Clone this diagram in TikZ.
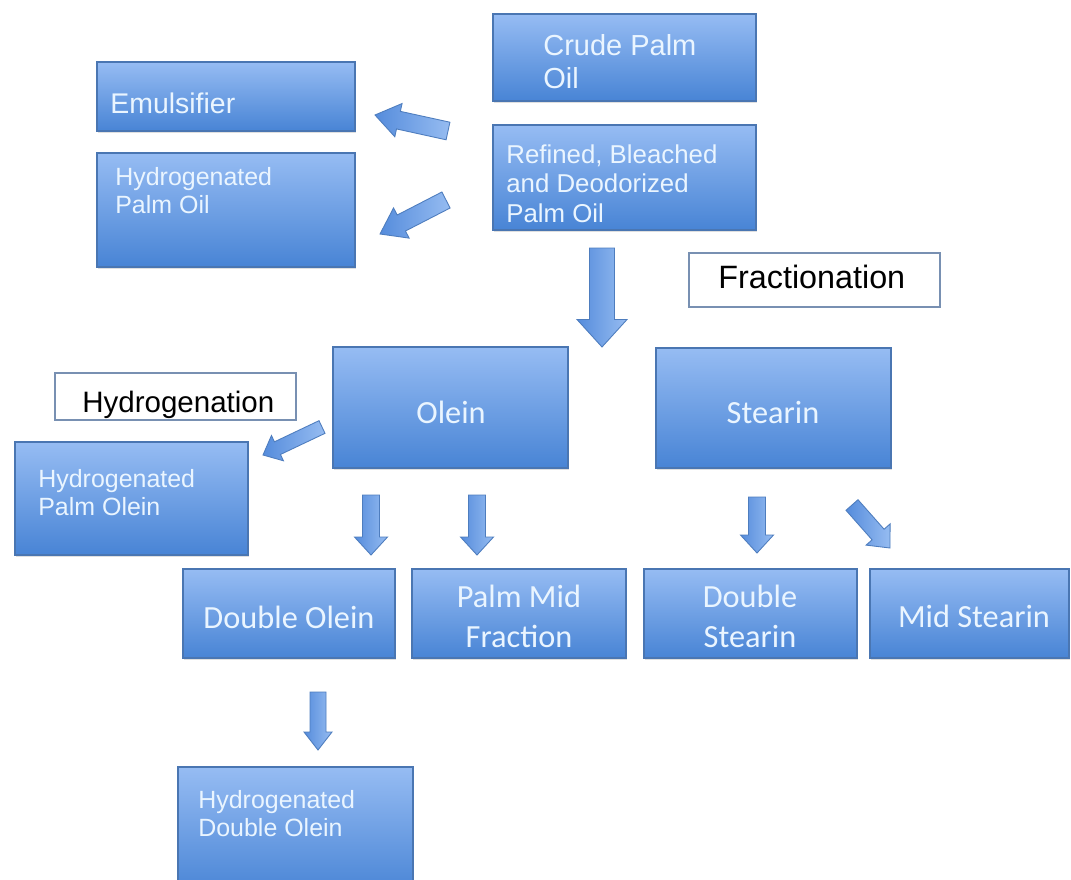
\documentclass[tikz,border=0pt]{standalone}
\usepackage{fontspec}
\setmainfont{Liberation Sans}
\newfontfamily\calib{Carlito}
\usetikzlibrary{calc,fit,shadows}

\definecolor{boxtop}{HTML}{96BCF3}
\definecolor{boxbot}{HTML}{4884D5}
\definecolor{boxedge}{HTML}{4A76B2}
\definecolor{boxfont}{HTML}{EAF5FF}
\definecolor{tagedge}{HTML}{7890B2}
\definecolor{arrowdark}{HTML}{558CDC}
\definecolor{arrowlight}{HTML}{96BCF1}
\definecolor{arrowedge}{HTML}{4E7DBE}

\tikzset{
  box/.style={draw=boxedge, line width=0.6pt, top color=boxtop, bottom color=boxbot,
    inner sep=0pt, drop shadow={opacity=0.25, shadow xshift=0.6pt, shadow yshift=-1pt}},
  boxtext/.style={text=boxfont, inner sep=0pt, align=left},
  calibtext/.style={text=boxfont, inner sep=0pt, align=center,
    font=\calib\fontsize{18.4pt}{22.7pt}\selectfont},
  tag/.style={draw=tagedge, line width=0.6pt, fill=white, inner sep=0pt},
  fat/.style={draw=arrowedge, line width=0.5pt, left color=arrowdark, right color=arrowlight},
}

% block arrow: tail, tip, half shaft, half head, head length
\newcommand{\fatarrow}[5]{%
  \coordinate (fa-h) at ($(#2)!#5!(#1)$);
  \draw[fat] ($(#1)!#3!90:(#2)$) -- ($(fa-h)!#3!90:(#2)$) -- ($(fa-h)!#4!90:(#2)$)
    -- (#2) -- ($(fa-h)!#4!-90:(#2)$) -- ($(fa-h)!#3!-90:(#2)$) -- ($(#1)!#3!-90:(#2)$) -- cycle;}

\begin{document}
\begin{tikzpicture}[x=0.02cm, y=-0.02cm]
  \useasboundingbox[fill=white] (0,0) rectangle (1071,879);

  % boxes
  \node[box, fit={(493,14) (756,101)}] (cpo) {};
  \node[box, fit={(493,125) (756,230)}] (rbd) {};
  \node[box, fit={(97,62) (355,131)}] (emul) {};
  \node[box, fit={(97,153) (355,267)}] (hpo) {};
  \node[box, fit={(333,347) (568,468)}] (olein) {};
  \node[box, fit={(656,348) (891,468)}] (stearin) {};
  \node[box, fit={(15,442) (248,555)}] (hpolein) {};
  \node[box, fit={(183,569) (395,658)}] (dolein) {};
  \node[box, fit={(412,569) (626,658)}] (pmf) {};
  \node[box, fit={(644,569) (857,658)}] (dstearin) {};
  \node[box, fit={(870,569) (1069,658)}] (mstearin) {};
  \node[box, fit={(178,767) (413,895)}] (hdo) {};

  % process labels
  \node[tag, fit={(689,253) (940,307)}] (fractag) {};
  \node[tag, fit={(55,373) (296,420)}] (hydrotag) {};
  \node[anchor=base west, inner sep=0pt, font=\fontsize{18.4pt}{22pt}\selectfont] (fractext) at (718,288) {Fractionation};
  \node[anchor=base west, inner sep=0pt, font=\fontsize{16.8pt}{20pt}\selectfont] (hydrotext) at (82,412) {Hydrogenation};

  % box texts (base = last line)
  \node[boxtext, anchor=base west, font=\fontsize{16.5pt}{18.7pt}\selectfont] (cpotext) at (543,88) {Crude Palm\\Oil};
  \node[boxtext, anchor=base west, font=\fontsize{14.7pt}{16.6pt}\selectfont] (rbdtext) at (506,222) {Refined, Bleached\\and Deodorized\\Palm Oil};
  \node[boxtext, anchor=base west, font=\fontsize{16.2pt}{19pt}\selectfont] (emultext) at (110,113) {Emulsifier};
  \node[boxtext, anchor=base west, font=\fontsize{14.2pt}{15.9pt}\selectfont] (hpotext) at (115,213) {Hydrogenated\\Palm Oil};
  \node[boxtext, anchor=base west, font=\fontsize{14.2pt}{15.9pt}\selectfont] (hpoleintext) at (38,515) {Hydrogenated\\Palm Olein};
  \node[boxtext, anchor=base west, font=\fontsize{14.2pt}{15.9pt}\selectfont] (hdotext) at (198,836) {Hydrogenated\\Double Olein};

  \node[calibtext, anchor=base] (oleintext) at (451,423) {Olein};
  \node[calibtext, anchor=base] (stearintext) at (773,423) {Stearin};
  \node[calibtext, anchor=base] (doleintext) at (289,628) {Double Olein};
  \node[calibtext, anchor=base] (pmftext) at (519,647) {Palm Mid\\Fraction};
  \node[calibtext, anchor=base] (dstearintext) at (750,647) {Double\\Stearin};
  \node[calibtext, anchor=base] (mstearintext) at (974,627) {Mid Stearin};

  % arrow ends
  \coordinate (emul-t) at (448,131);  \coordinate (emul-p) at (375,115);
  \coordinate (hpo-t) at (446,200);   \coordinate (hpo-p) at (380,234);
  \coordinate (frac-t) at (602,248);  \coordinate (frac-p) at (602,347);
  \coordinate (hpol-t) at (322,427);  \coordinate (hpol-p) at (263,455);
  \coordinate (dol-t) at (371,495);   \coordinate (dol-p) at (371,555);
  \coordinate (pmf-t) at (477,495);   \coordinate (pmf-p) at (477,555);
  \coordinate (dst-t) at (757,497);   \coordinate (dst-p) at (757,553);
  \coordinate (mst-t) at (852,505);   \coordinate (mst-p) at (890,548);
  \coordinate (hdo-t) at (318,692);   \coordinate (hdo-p) at (318,750);

  \fatarrow{emul-t}{emul-p}{0.18cm}{0.34cm}{0.48cm}
  \fatarrow{hpo-t}{hpo-p}{0.18cm}{0.34cm}{0.48cm}
  \fatarrow{frac-t}{frac-p}{0.25cm}{0.5cm}{0.55cm}
  \fatarrow{hpol-t}{hpol-p}{0.14cm}{0.28cm}{0.32cm}
  \fatarrow{dol-t}{dol-p}{0.17cm}{0.33cm}{0.36cm}
  \fatarrow{pmf-t}{pmf-p}{0.17cm}{0.33cm}{0.36cm}
  \fatarrow{dst-t}{dst-p}{0.17cm}{0.33cm}{0.36cm}
  \fatarrow{mst-t}{mst-p}{0.16cm}{0.32cm}{0.36cm}
  \fatarrow{hdo-t}{hdo-p}{0.16cm}{0.28cm}{0.36cm}
\end{tikzpicture}
\end{document}
